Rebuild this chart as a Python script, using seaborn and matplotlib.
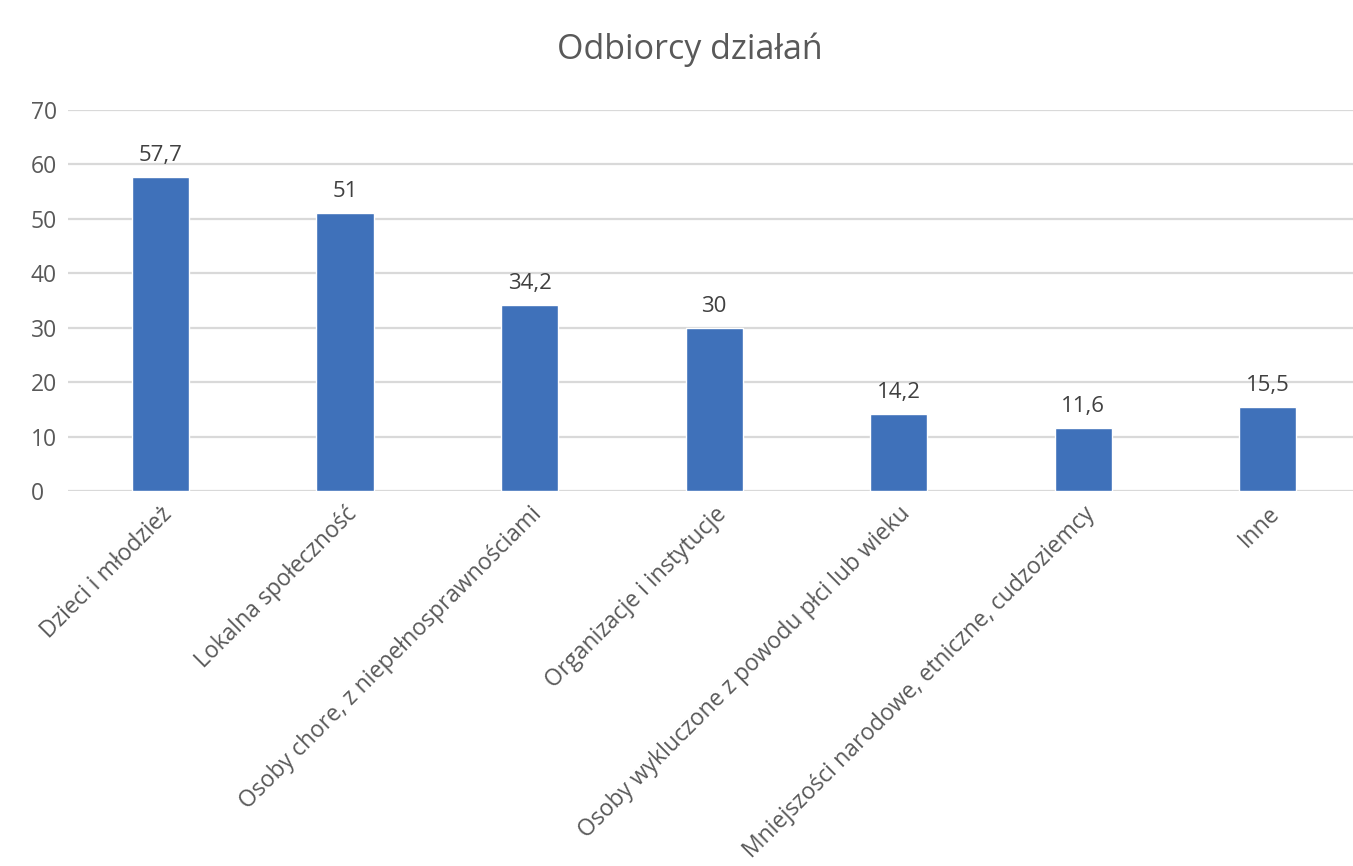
import matplotlib
matplotlib.use("Agg")
import matplotlib.pyplot as plt
import seaborn as sns
import pandas as pd

categories = [
    "Dzieci i młodzież",
    "Lokalna społeczność",
    "Osoby chore, z niepełnosprawnościami",
    "Organizacje i instytucje",
    "Osoby wykluczone z powodu płci lub wieku",
    "Mniejszości narodowe, etniczne, cudzoziemcy",
    "Inne",
]
values = [57.7, 51, 34.2, 30, 14.2, 11.6, 15.5]
value_labels = ["57,7", "51", "34,2", "30", "14,2", "11,6", "15,5"]
y_ticks = [0, 10, 20, 30, 40, 50, 60, 70]

sns.set_theme(style="white")
plt.rcParams["font.family"] = ["Open Sans", "DejaVu Sans"]

text_color = "#595959"
bar_color = "#3F71BA"
grid_color = "#D9D9D9"

fig = plt.figure(figsize=(13.53, 8.66), dpi=100)
ax = fig.add_axes([0.0503, 0.433, 0.955, 0.440])

df = pd.DataFrame({"category": categories, "value": values})
sns.barplot(data=df, x="category", y="value", color=bar_color,
            width=0.31, saturation=1, ax=ax, zorder=3)

ax.set_ylim(0, 70)
ax.set_xlim(-0.5, len(categories) - 0.5)
ax.set_yticks(y_ticks)
ax.set_yticklabels([str(t) for t in y_ticks], fontsize=16.5, color=text_color)
for t in y_ticks:
    ax.axhline(t, color=grid_color, lw=1.6, zorder=1)

ax.set_xticks(range(len(categories)))
ax.set_xticklabels(categories, rotation=45, ha="right", rotation_mode="anchor",
                   fontsize=16.5, color=text_color)
ax.tick_params(axis="x", length=0, pad=8)
ax.tick_params(axis="y", length=0, pad=27)
for lbl in ax.get_yticklabels():
    lbl.set_horizontalalignment("left")

ax.set_xlabel("")
ax.set_ylabel("")
for s in ax.spines.values():
    s.set_visible(False)

for patch, lab in zip(ax.patches, value_labels):
    ax.annotate(lab, (patch.get_x() + patch.get_width() / 2, patch.get_height()),
                xytext=(0, 8), textcoords="offset points",
                ha="center", va="bottom", fontsize=16, color="#404040")

fig.text(0.51, 0.942, "Odbiorcy działań", ha="center", va="center",
         fontsize=24.5, color=text_color)

fig.savefig("out.png", dpi=100, facecolor="white")
